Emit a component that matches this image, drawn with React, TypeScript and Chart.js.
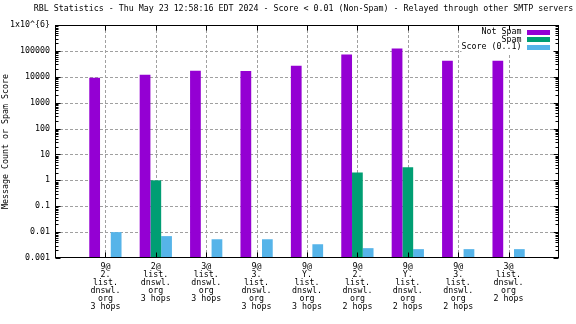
import React, { useEffect, useRef } from 'react';
import { Chart, registerables } from 'chart.js';

Chart.register(...registerables);

const categories: string[][] = [
  ['9@', '2.', 'list.', 'dnswl.', 'org', '3 hops'],
  ['2@', 'list.', 'dnswl.', 'org', '3 hops'],
  ['3@', 'list.', 'dnswl.', 'org', '3 hops'],
  ['9@', '3.', 'list.', 'dnswl.', 'org', '3 hops'],
  ['9@', 'Y.', 'list.', 'dnswl.', 'org', '3 hops'],
  ['9@', '2.', 'list.', 'dnswl.', 'org', '2 hops'],
  ['9@', 'Y.', 'list.', 'dnswl.', 'org', '2 hops'],
  ['9@', '3.', 'list.', 'dnswl.', 'org', '2 hops'],
  ['3@', 'list.', 'dnswl.', 'org', '2 hops'],
];
const notSpam: (number | null)[] = [9200, 12000, 17100, 16900, 26800, 72000, 123000, 42000, 42000];
const spam: (number | null)[] = [null, 1, null, null, null, 2, 3.2, null, null];
const score: (number | null)[] = [0.01, 0.007, 0.0053, 0.0053, 0.0034, 0.0024, 0.0022, 0.0022, 0.0022];
const yTicks = [0.001, 0.01, 0.1, 1, 10, 100, 1000, 10000, 100000, 1000000];
const yTickLabels = ['0.001', '0.01', '0.1', '1', '10', '100', '1000', '10000', '100000', '1x10^{6}'];
const seriesNames = ['Not Spam', 'Spam', 'Score (0..1)'];
const seriesColors = ['#9400D3', '#009E73', '#56B4E9'];
const titleText =
  'RBL Statistics - Thu May 23 12:58:16 EDT 2024 - Score < 0.01 (Non-Spam) - Relayed through other SMTP servers';
const yTitle = 'Message Count or Spam Score';

const FONT = '"DejaVu Sans Mono", "Liberation Mono", monospace';
const FSIZE = 8.3;

const pad = (arr: (number | null)[]) => [null, ...arr, null];

const gridPlugin = {
  id: 'dashGrid',
  beforeDatasetsDraw(chart: any) {
    const { ctx, chartArea: a, scales } = chart;
    const xs = scales.x;
    const ys = scales.y;
    const L = Math.round(a.left);
    const R = Math.round(a.right);
    const T = Math.round(a.top);
    const B = Math.round(a.bottom);
    ctx.save();
    ctx.strokeStyle = '#a0a0a0';
    ctx.lineWidth = 1;
    ctx.setLineDash([3, 2]);
    ctx.beginPath();
    for (let d = -2; d <= 5; d++) {
      const py = Math.round(ys.getPixelForValue(Math.pow(10, d))) + 0.5;
      ctx.moveTo(L, py);
      ctx.lineTo(R, py);
    }
    for (let i = 1; i <= categories.length; i++) {
      const px = Math.round(xs.getPixelForValue(i)) + 0.5;
      ctx.moveTo(px, T);
      ctx.lineTo(px, B);
    }
    ctx.stroke();
    ctx.restore();
  },
};

const decor = {
  id: 'decor',
  afterDatasetsDraw(chart: any) {
    const { ctx, chartArea: a, scales } = chart;
    const xs = scales.x;
    const ys = scales.y;
    const L = Math.round(a.left) + 0.5;
    const R = Math.round(a.right) - 0.5;
    const T = Math.round(a.top) + 0.5;
    const B = Math.round(a.bottom) - 0.5;
    ctx.save();

    // legend background
    ctx.fillStyle = '#ffffff';
    ctx.fillRect(R - 97, T + 0.5, 97, 27);

    // ticks
    ctx.strokeStyle = '#000000';
    ctx.lineWidth = 1;
    ctx.beginPath();
    for (let d = -3; d <= 6; d++) {
      const py = Math.round(ys.getPixelForValue(Math.pow(10, d))) + 0.5;
      ctx.moveTo(L, py); ctx.lineTo(L + 5, py);
      ctx.moveTo(R, py); ctx.lineTo(R - 5, py);
      if (d < 6) {
        for (let k = 2; k <= 9; k++) {
          const my = Math.round(ys.getPixelForValue(k * Math.pow(10, d))) + 0.5;
          ctx.moveTo(L, my); ctx.lineTo(L + 3, my);
          ctx.moveTo(R, my); ctx.lineTo(R - 3, my);
        }
      }
    }
    for (let i = 1; i <= categories.length; i++) {
      const px = Math.round(xs.getPixelForValue(i)) + 0.5;
      ctx.moveTo(px, B); ctx.lineTo(px, B - 5);
      ctx.moveTo(px, T); ctx.lineTo(px, T + 5);
    }
    ctx.stroke();

    // border
    ctx.strokeRect(L, T, R - L, B - T);

    // legend
    ctx.font = `${FSIZE}px ${FONT}`;
    ctx.textAlign = 'right';
    ctx.textBaseline = 'middle';
    const rows = [T + 6.5, T + 14, T + 21.5];
    seriesNames.forEach((name, i) => {
      ctx.fillStyle = '#000000';
      ctx.fillText(name, R - 37, rows[i]);
      ctx.fillStyle = seriesColors[i];
      ctx.fillRect(R - 31.5, Math.round(rows[i] - 2.5), 23, 5);
    });

    // title
    ctx.fillStyle = '#000000';
    ctx.textAlign = 'center';
    ctx.fillText(titleText, 303.5, 9);

    // y title
    ctx.translate(6, (a.top + a.bottom) / 2);
    ctx.rotate(-Math.PI / 2);
    ctx.fillText(yTitle, 0, 0);
    ctx.restore();
  },
};

export default function App() {
  const ref = useRef<HTMLCanvasElement | null>(null);
  useEffect(() => {
    document.body.style.margin = '0';
    const canvas = ref.current;
    if (!canvas) return;
    const labels = ['', ...categories, ''];
    const chart = new Chart(canvas, {
      type: 'bar',
      data: {
        labels,
        datasets: [
          { label: seriesNames[0], data: pad(notSpam), backgroundColor: seriesColors[0] },
          { label: seriesNames[1], data: pad(spam), backgroundColor: seriesColors[1] },
          { label: seriesNames[2], data: pad(score), backgroundColor: seriesColors[2] },
        ],
      },
      options: {
        responsive: false,
        animation: false,
        devicePixelRatio: 1,
        events: [],
        layout: { padding: { top: 25, right: 17, left: 0, bottom: 0 } },
        datasets: { bar: { categoryPercentage: 0.64, barPercentage: 1.0, borderWidth: 0 } },
        plugins: {
          legend: { display: false },
          title: { display: false },
          tooltip: { enabled: false },
        },
        scales: {
          x: {
            type: 'category',
            offset: false,
            grid: { display: false, drawTicks: false },
            border: { display: false },
            ticks: {
              autoSkip: false,
              maxRotation: 0,
              minRotation: 0,
              padding: 5,
              color: '#000000',
              font: { family: FONT, size: FSIZE, lineHeight: '8px' } as any,
            },
            afterFit: (s: any) => { s.height = 66; },
          },
          y: {
            type: 'logarithmic',
            min: 0.001,
            max: 1000000,
            grid: { display: false, drawTicks: false },
            border: { display: false },
            afterBuildTicks: (s: any) => {
              s.ticks = yTicks.map((v) => ({ value: v }));
            },
            ticks: {
              padding: 5,
              color: '#000000',
              font: { family: FONT, size: FSIZE },
              callback: (v: any) => {
                const i = yTicks.findIndex((t) => Math.abs(Math.log10(t) - Math.log10(Number(v))) < 1e-6);
                return i >= 0 ? yTickLabels[i] : '';
              },
            },
            afterFit: (s: any) => { s.width = 55; },
          },
        },
      },
      plugins: [gridPlugin, decor],
    } as any);
    return () => chart.destroy();
  }, []);
  return (
    <div style={{ width: 576, height: 324, background: '#fff' }}>
      <canvas ref={ref} width={576} height={324} style={{ display: 'block', width: 576, height: 324 }} />
    </div>
  );
}
